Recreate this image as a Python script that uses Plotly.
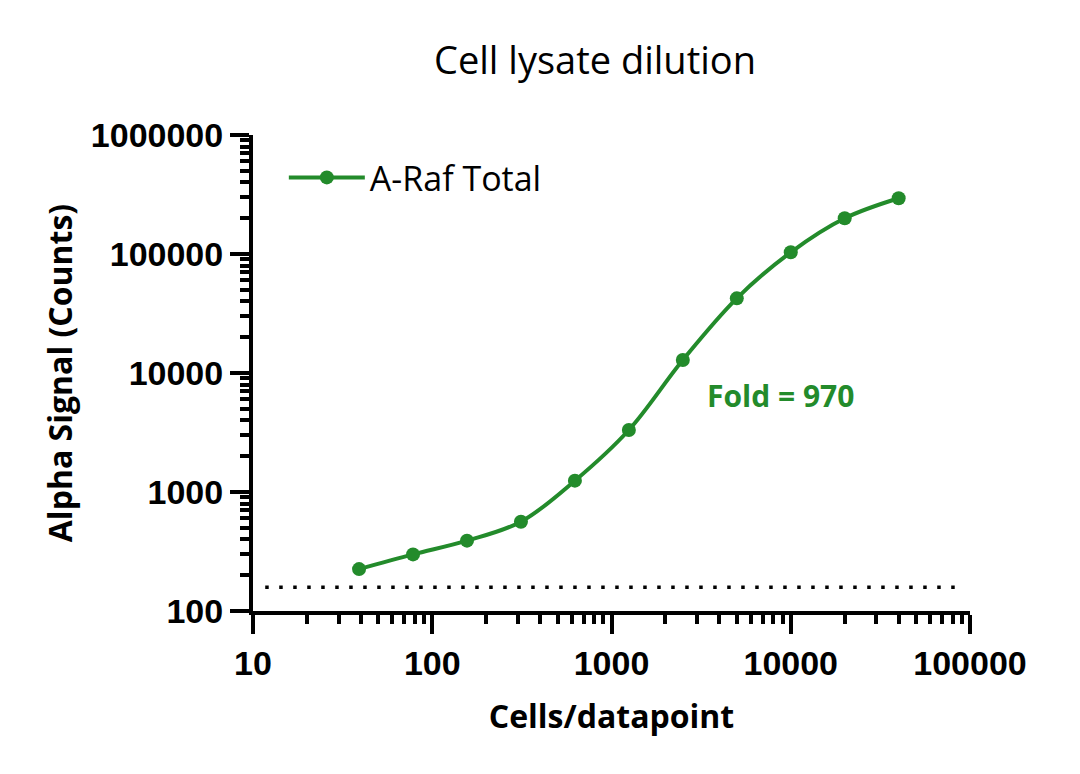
import math
import plotly.graph_objects as go

# ---- data ----
cells = [39.0625, 78.125, 156.25, 312.5, 625, 1250, 2500, 5000, 10000, 20000, 40000]
signal = [225, 299, 390, 563, 1245, 3320, 12860, 42400, 103300, 199500, 294000]
series_name = "A-Raf Total"
background_x = [11.7, 85000]
background_y = [158, 158]
fold_text = "Fold = 970"
fold_x = 8770
fold_y = 6410

x_tickvals = [10, 100, 1000, 10000, 100000]
x_ticktext = ["10", "100", "1000", "10000", "100000"]
y_tickvals = [100, 1000, 10000, 100000, 1000000]
y_ticktext = ["100", "1000", "10000", "100000", "1000000"]

GREEN = "#238B2B"
TEXT_FONT = "Open Sans"
TICK_FONT = "Liberation Sans, Arial, sans-serif"

fig = go.Figure()

fig.add_trace(go.Scatter(
    x=background_x, y=background_y, mode="lines",
    line=dict(color="black", width=3.5, dash="3.5px,10.5px"),
    showlegend=False, hoverinfo="skip",
))

fig.add_trace(go.Scatter(
    x=cells, y=signal, mode="lines+markers", name=series_name,
    line=dict(color=GREEN, width=4, shape="spline", smoothing=1),
    marker=dict(color=GREEN, size=14),
))

fig.add_annotation(
    x=math.log10(fold_x), y=math.log10(fold_y), xref="x", yref="y",
    text="<b>" + fold_text + "</b>", showarrow=False,
    font=dict(family=TEXT_FONT, size=30, color=GREEN),
    xanchor="center", yanchor="middle",
)

axis_common = dict(
    type="log", showgrid=False, zeroline=False,
    showline=True, linecolor="black", linewidth=4,
    ticks="outside", ticklen=19, tickwidth=4, tickcolor="black",
    tickfont=dict(family=TICK_FONT, size=34, color="black", weight="bold"),
    minor=dict(ticks="outside", ticklen=9, tickwidth=4, tickcolor="black", dtick="D1", showgrid=False),
)

fig.update_xaxes(
    **axis_common, range=[1, 5], tickmode="array",
    tickvals=x_tickvals, ticktext=x_ticktext,
    title=dict(text="<b>Cells/datapoint</b>", font=dict(family=TEXT_FONT, size=32, color="black"), standoff=26),
)
fig.update_yaxes(
    **axis_common, range=[2, 6], tickmode="array",
    tickvals=y_tickvals, ticktext=y_ticktext,
    title=dict(text="<b>Alpha Signal (Counts)</b>", font=dict(family=TEXT_FONT, size=32, color="black"), standoff=10),
)

W, H = 1064, 758
fig.update_layout(
    width=W, height=H,
    margin=dict(l=245, r=W - 962, t=127, b=H - 603),
    paper_bgcolor="white", plot_bgcolor="white",
    title=dict(text="Cell lysate dilution", x=(587 / W), xanchor="center", y=1 - 53 / H, yanchor="middle",
               font=dict(family=TEXT_FONT, size=38, color="black")),
    legend=dict(x=0.043, y=0.971, xanchor="left", yanchor="top",
                font=dict(family=TEXT_FONT, size=34, color="black"),
                bgcolor="rgba(0,0,0,0)", itemwidth=76),
    showlegend=True,
)

fig.write_html("out.html")
